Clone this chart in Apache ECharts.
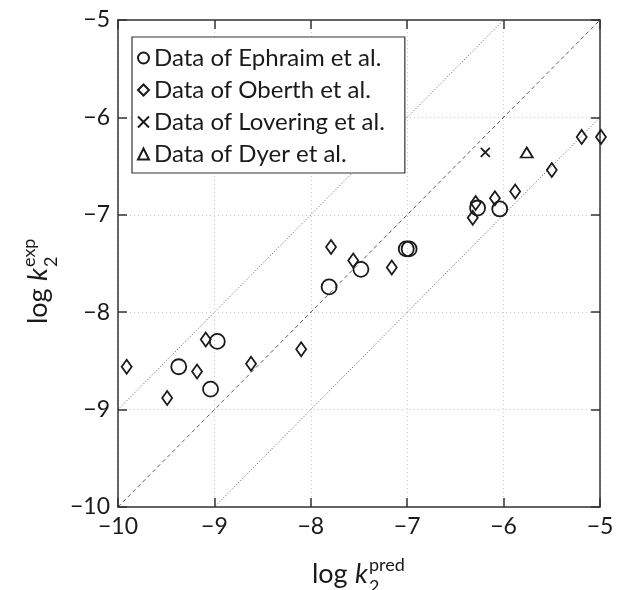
<!DOCTYPE html>
<html>
<head>
<meta charset="utf-8">
<script src="https://cdn.jsdelivr.net/npm/echarts@6/dist/echarts.min.js"></script>
<style>
html, body { margin: 0; padding: 0; background: #fff; }
#chart { width: 617px; height: 590px; }
</style>
</head>
<body>
<div id="chart"></div>
<script>
// data
var ephraimX = [-9.37, -9.04, -8.97, -7.81, -7.48, -7.01, -6.98, -6.27, -6.04];
var ephraimY = [-8.56, -8.79, -8.30, -7.74, -7.56, -7.35, -7.35, -6.93, -6.94];

var oberthX = [-9.91, -9.49, -9.18, -9.09, -8.62, -8.10, -7.79, -7.56, -7.16, -6.32, -6.29, -6.09, -5.88, -5.50, -5.19, -4.99];
var oberthY = [-8.56, -8.88, -8.61, -8.28, -8.53, -8.38, -7.33, -7.47, -7.54, -7.03, -6.88, -6.83, -6.76, -6.54, -6.20, -6.20];

var loveringX = [-6.19];
var loveringY = [-6.36];

var dyerX = [-5.76];
var dyerY = [-6.36];

var axisTicks = [-10, -9, -8, -7, -6, -5];
var refOffsets = [0, 1, -1];
var refLineX = [-10, -5];

var FONT = 'Lato';
var INK = '#1a1a1a';

function pairs(xs, ys) {
	var out = [];
	for (var i = 0; i < xs.length; i++) {
		out.push([xs[i], ys[i]]);
	}
	return out;
}

function fmt(v) {
	return String(v).replace('-', '\u2212');
}

function refLine(off) {
	return {
		type: 'line',
		silent: true,
		symbol: 'none',
		clip: true,
		data: refLineX.map(function (x) { return [x, x + off]; }),
		lineStyle: {
			color: '#333',
			width: 0.8,
			type: off === 0 ? [4, 3] : [1, 2]
		},
		z: 1
	};
}

function scatter(name, xs, ys, symbol, size) {
	return {
		name: name,
		type: 'scatter',
		clip: false,
		symbol: symbol,
		symbolSize: size,
		data: pairs(xs, ys),
		itemStyle: {
			color: 'rgba(0,0,0,0)',
			borderColor: INK,
			borderWidth: 1.8,
			opacity: 1
		},
		z: 3
	};
}

var crossPath = 'path://M0,0L10,10M10,0L0,10';

var axisCommon = {
	type: 'value',
	min: axisTicks[0],
	max: axisTicks[axisTicks.length - 1],
	interval: 1,
	axisLine: { show: true, lineStyle: { color: '#333', width: 1.5 } },
	axisTick: { show: true, inside: true, length: 9, lineStyle: { color: '#333', width: 1.5 } }
};

function mainAxis(pos) {
	return Object.assign({}, axisCommon, {
		position: pos,
		axisLabel: {
			color: INK,
			fontFamily: FONT,
			fontSize: 23,
			margin: 8,
			formatter: fmt
		},
		splitLine: { show: true, lineStyle: { color: '#c8c8c8', type: [1, 3], width: 1 } }
	});
}

function mirrorAxis(pos) {
	return Object.assign({}, axisCommon, {
		position: pos,
		axisLabel: { show: false },
		splitLine: { show: false }
	});
}

function axisName(x, y, rot, sup) {
	return {
		type: 'group',
		x: x,
		y: y,
		rotation: rot,
		children: [
			{ type: 'text', x: -62, y: 0, style: { text: 'log ', fill: INK, font: '27px ' + FONT, textVerticalAlign: 'bottom' } },
			{ type: 'text', x: -19, y: 0, style: { text: 'k', fill: INK, font: 'italic 27px ' + FONT, textVerticalAlign: 'bottom' } },
			{ type: 'text', x: -5, y: -14, style: { text: sup, fill: INK, font: '18px ' + FONT, textVerticalAlign: 'bottom' } },
			{ type: 'text', x: -5, y: 8, style: { text: '2', fill: INK, font: '18px ' + FONT, textVerticalAlign: 'bottom' } }
		]
	};
}

var chart = echarts.init(document.getElementById('chart'), null, { renderer: 'canvas' });
var option = {
	backgroundColor: '#fff',
	animation: false,
	grid: { left: 118, right: 17, top: 20, bottom: 83 },
	xAxis: [mainAxis('bottom'), mirrorAxis('top')],
	yAxis: [mainAxis('left'), mirrorAxis('right')],
	legend: {
		orient: 'vertical',
		left: 132,
		top: 37,
		padding: [9, 20, 7, 5],
		itemGap: 8,
		itemWidth: 11,
		itemHeight: 11,
		backgroundColor: '#fff',
		borderColor: '#333',
		borderWidth: 1.2,
		textStyle: { color: INK, fontFamily: FONT, fontSize: 24 },
		data: ['Data of Ephraim et al.', 'Data of Oberth et al.', 'Data of Lovering et al.', 'Data of Dyer et al.']
	},
	graphic: [
		axisName(374, 588, 0, 'pred'),
		axisName(52, 262, Math.PI / 2, 'exp')
	],
	series: refOffsets.map(refLine).concat([
		scatter('Data of Ephraim et al.', ephraimX, ephraimY, 'circle', 15),
		scatter('Data of Oberth et al.', oberthX, oberthY, 'diamond', [10, 14]),
		scatter('Data of Lovering et al.', loveringX, loveringY, crossPath, 9),
		scatter('Data of Dyer et al.', dyerX, dyerY, 'triangle', [12, 10])
	])
};
chart.setOption(option);
</script>
</body>
</html>
